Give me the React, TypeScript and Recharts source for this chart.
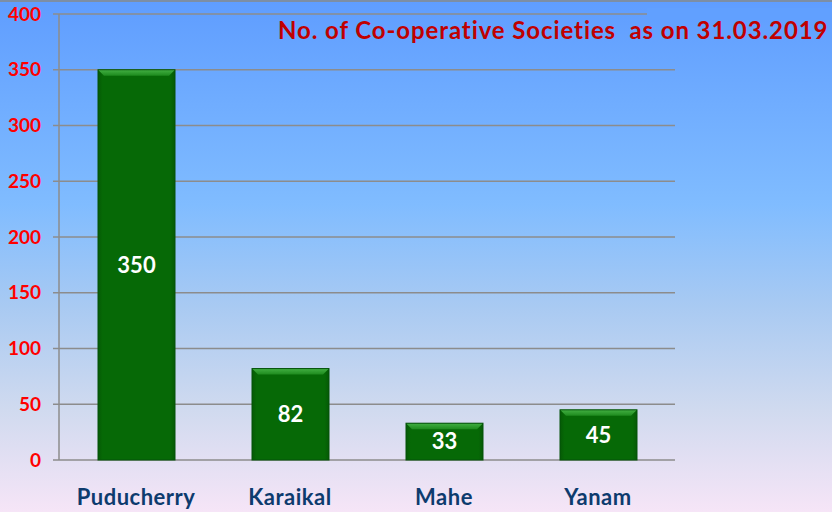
import React from "react";
import { BarChart, Bar, XAxis, YAxis, CartesianGrid, LabelList } from "recharts";

const categories = ["Puducherry", "Karaikal", "Mahe", "Yanam"];
const societies = [350, 82, 33, 45];
const yTicks = [0, 50, 100, 150, 200, 250, 300, 350, 400];
const boundaryTicks = [0, 1, 2, 3, 4];
const title = "No. of Co-operative Societies  as on 31.03.2019";

const data = categories.map((name, i) => ({ name, value: societies[i] }));

const FONT = "Lato, 'Open Sans', sans-serif";

const BevelBar = (props: any) => {
  const { x, y, width, height } = props;
  if (!height || height <= 0) return null;
  const b = Math.min(6, height / 2);
  return (
    <g>
      <rect x={x} y={y} width={width} height={height} fill="url(#barBody)" />
      <polygon
        points={`${x},${y} ${x + width},${y} ${x + width - b},${y + b} ${x + b},${y + b}`}
        fill="url(#barTop)"
      />
      <rect x={x} y={y} width={width} height={height} fill="none" stroke="#04520a" strokeWidth={1} />
    </g>
  );
};

export default function App() {
  return (
    <div
      style={{
        position: "absolute",
        left: 0,
        top: 0,
        width: 832,
        height: 512,
        overflow: "hidden",
        background:
          "linear-gradient(to bottom, #5f9dff 0%, #80bcff 40%, #a9caf2 60%, #d0daef 80%, #f6e5f7 100%)",
        fontFamily: FONT,
      }}
    >
      <div style={{ position: "absolute", left: 0, top: 0, width: 832, height: 2, background: "#7d8ea4" }} />
      <BarChart
        width={832}
        height={512}
        data={data}
        margin={{ top: 14, right: 157, bottom: 0, left: 0 }}
        barCategoryGap="25%"
      >
        <defs>
          <linearGradient id="barBody" x1="0" y1="0" x2="1" y2="0">
            <stop offset="0%" stopColor="#055a05" />
            <stop offset="6%" stopColor="#066906" />
            <stop offset="94%" stopColor="#066906" />
            <stop offset="100%" stopColor="#055a05" />
          </linearGradient>
          <linearGradient id="barTop" x1="0" y1="0" x2="0" y2="1">
            <stop offset="0%" stopColor="#43b043" />
            <stop offset="100%" stopColor="#1d8a1d" />
          </linearGradient>
        </defs>
        <CartesianGrid vertical={false} stroke="#8c8c8c" strokeWidth={1.5} />
        <XAxis
          xAxisId="grid"
          type="number"
          domain={[0, 4]}
          ticks={boundaryTicks}
          tick={false}
          height={0}
          axisLine={{ stroke: "#8c8c8c", strokeWidth: 1.5 }}
          tickLine={{ stroke: "#8c8c8c", strokeWidth: 1.5 }}
          tickSize={8}
        />
        <XAxis
          dataKey="name"
          height={52}
          axisLine={false}
          tickLine={false}
          tickMargin={23}
          tick={{ fill: "#0d3b6e", fontSize: 22, fontWeight: 700, fontFamily: FONT, letterSpacing: 0.5 }}
        />
        <YAxis
          width={59}
          domain={[0, 400]}
          ticks={yTicks}
          interval={0}
          axisLine={{ stroke: "#8c8c8c", strokeWidth: 1.5 }}
          tickLine={{ stroke: "#8c8c8c", strokeWidth: 1.5 }}
          tickSize={6}
          tickMargin={12}
          tick={{ fill: "#ff0000", fontSize: 19, fontWeight: 700, fontFamily: FONT }}
        />
        <Bar dataKey="value" isAnimationActive={false} shape={<BevelBar />} barSize={77}>
          <LabelList
            dataKey="value"
            position="center"
            fill="#ffffff"
            style={{ fontSize: 22, fontWeight: 700, fontFamily: FONT }}
          />
        </Bar>
      </BarChart>
      <div
        style={{
          position: "absolute",
          left: 647,
          top: 8,
          width: 185,
          height: 12,
          background: "#61a0ff",
        }}
      />
      <div
        style={{
          position: "absolute",
          left: 278,
          top: 15,
          whiteSpace: "pre",
          color: "#c00000",
          fontSize: 24,
          fontWeight: 700,
          fontFamily: FONT,
          lineHeight: "30px",
          letterSpacing: 0.9,
        }}
      >
        {title}
      </div>
    </div>
  );
}
